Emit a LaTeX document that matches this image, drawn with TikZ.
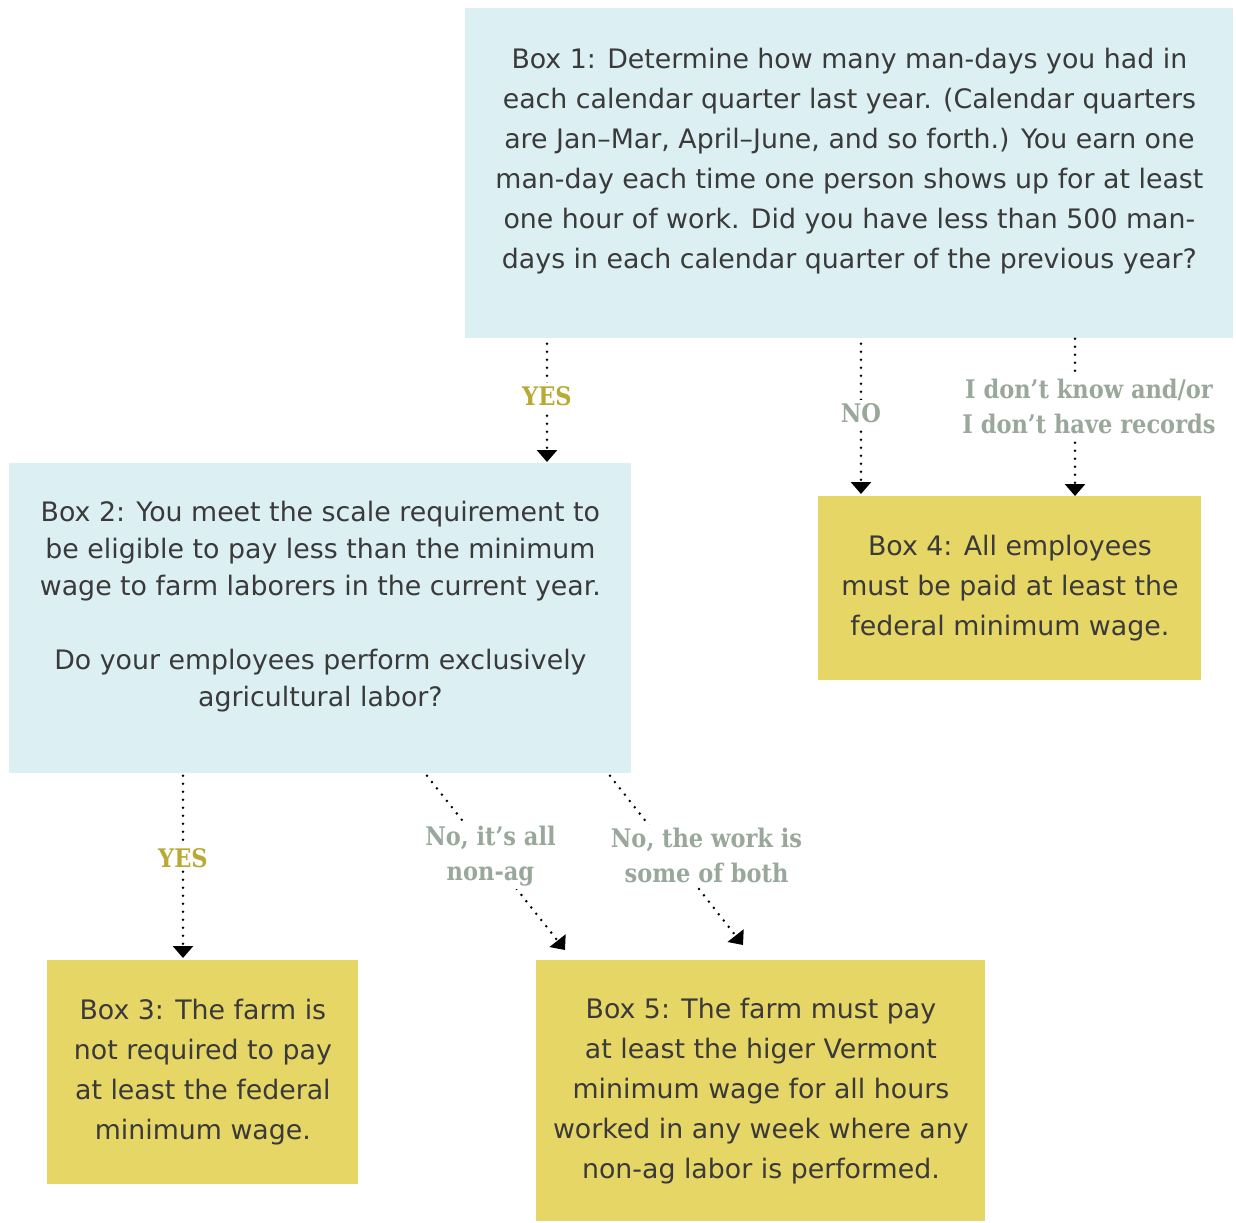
\documentclass[tikz,border=0pt]{standalone}
\usepackage{fontspec}
\setmainfont{DejaVu Sans}
\newfontfamily\slabfont[FakeStretch=0.88]{DejaVu Serif}
\usetikzlibrary{calc,arrows.meta,positioning}
\definecolor{boxblue}{HTML}{DCEFF3}
\definecolor{boxyellow}{HTML}{E6D666}
\definecolor{bodytext}{HTML}{3A3A3A}
\definecolor{yescol}{HTML}{B9AA35}
\definecolor{nocol}{HTML}{9AA89C}
\tikzset{
  qbox/.style={fill=boxblue, inner sep=0pt, anchor=north west},
  abox/.style={fill=boxyellow, inner sep=0pt, anchor=north west, align=center, text=bodytext,
    font=\fontsize{13.4}{20}\selectfont},
  boxtext/.style={align=center, text=bodytext, font=\fontsize{13.4}{20}\selectfont},
  flow/.style={line width=1.4pt, dash pattern=on 0pt off 4pt, line cap=round,
    -{Triangle[width=10pt,length=6pt]}},
  yeslabel/.style={fill=white, text=yescol, inner sep=1.5pt,
    font=\slabfont\bfseries\fontsize{12.8}{17.5}\selectfont},
  nolabel/.style={yeslabel, text=nocol, align=center},
}
\begin{document}
\begin{tikzpicture}[x=0.5pt,y=-0.5pt]
\useasboundingbox (0,0) rectangle (1236,1222);
% question boxes
\node[qbox, minimum width=384pt, minimum height=165pt] (box1) at (465,8) {};
\node[boxtext] (text1) at ($(box1.north)+(0,153)$) {Box 1: Determine how many man-days you had in\\
each calendar quarter last year. (Calendar quarters\\
are Jan--Mar, April--June, and so forth.) You earn one\\
man-day each time one person shows up for at least\\
one hour of work. Did you have less than 500 man-\\
days in each calendar quarter of the previous year?};
\node[qbox, minimum width=311pt, minimum height=155pt] (box2) at (9,463) {};
\node[boxtext, font=\fontsize{13.4}{18.5}\selectfont] (text2) at ($(box2.north)+(0,144)$) {Box 2: You meet the scale requirement to\\
be eligible to pay less than the minimum\\
wage to farm laborers in the current year.\\[18.5pt]
Do your employees perform exclusively\\
agricultural labor?};
% answer boxes
\node[abox, minimum width=191.5pt, minimum height=92pt] (box4) at (818,496) {Box 4: All employees\\
must be paid at least the\\
federal minimum wage.};
\node[abox, minimum width=155.5pt, minimum height=112pt] (box3) at (47,960) {Box 3: The farm is\\
not required to pay\\
at least the federal\\
minimum wage.};
\node[abox, minimum width=224.5pt, minimum height=130.5pt] (box5) at (536,960) {Box 5: The farm must pay\\
at least the higer Vermont\\
minimum wage for all hours\\
worked in any week where any\\
non-ag labor is performed.};
% connectors
\draw[flow] ($(box1.south west)+(82,5)$) -- node[yeslabel, pos=0.44] (yes1) {YES} ($(box2.north west)+(538,-1)$);
\draw[flow] ($(box1.south west)+(396,5)$) -- node[nolabel, pos=0.46] (no1) {NO} ($(box4.north west)+(43,-2)$);
\draw[flow] ($(box1.south west)+(610,0)$) -- node[nolabel, pos=0.43, xshift=7pt] (idk) {I don’t know and/or\\I don’t have records} ($(box4.north west)+(257,0)$);
\draw[flow] ($(box2.south west)+(174,2)$) -- node[yeslabel, pos=0.45] (yes2) {YES} ($(box3.north west)+(136,-2)$);
\draw[flow] ($(box2.south west)+(418,2)$) -- node[nolabel, pos=0.46] (nonag) {No, it’s all\\non-ag} ($(box5.north west)+(29,-10)$);
\draw[flow] ($(box2.south west)+(601,2)$) -- node[nolabel, pos=0.47, xshift=17pt] (both) {No, the work is\\some of both} ($(box5.north west)+(207,-15)$);
\end{tikzpicture}
\end{document}
